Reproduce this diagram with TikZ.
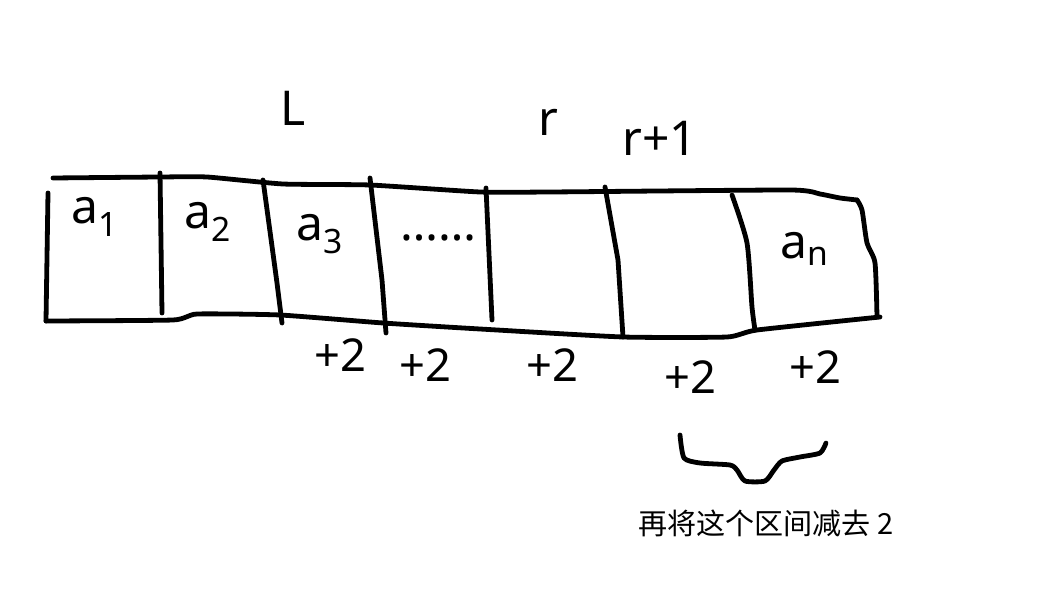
\documentclass[tikz,border=0pt]{standalone}
\usepackage{fontspec}
\setmainfont{Noto Sans}
\newfontfamily\cjk{Noto Sans CJK SC}
\begin{document}
\begin{tikzpicture}[x=0.75pt,y=-0.75pt,
  pen/.style={line width=3.6pt,line cap=round,line join=round,black},
  hand/.style={font=\fontsize{36}{36}\selectfont,inner sep=0pt},
  plus/.style={font=\fontsize{34}{34}\selectfont,inner sep=0pt},
  note/.style={font=\cjk\fontsize{21.8}{21.8}\selectfont,inner sep=0pt}]
\useasboundingbox[fill=white] (0,0) rectangle (1039,598);
% outline
\draw[pen] plot[smooth,tension=0.3] coordinates {(53,178) (160,177) (207,177) (283,184) (370,185) (480,192) (550,192) (790,190) (820,194) (840,198) (857,200)};
\draw[pen] plot[smooth,tension=0.4] coordinates {(857,200) (862,210) (867,243) (875,263) (877,317)};
\draw[pen] (48,193) -- (46,321);
\draw[pen] plot[smooth,tension=0.3] coordinates {(46,321) (173,320) (197,314) (280,315) (383,323) (480,329) (623,337) (727,337) (757,330) (880,317)};
% dividers
\draw[pen] (160,173) -- (162,313);
\draw[pen] (263,180) -- (277,283) -- (282,323);
\draw[pen] (370,178) -- (382,280) -- (386,333);
\draw[pen] (486,188) -- (492,320);
\draw[pen] (605,187) -- (618,260) -- (623,337);
\draw[pen] plot[smooth,tension=0.4] coordinates {(732,195) (747,243) (752,307) (755,330)};
% brace
\draw[pen] plot[smooth,tension=0.4] coordinates {(680,435) (684,458) (700,463) (730,465) (737,470) (745,481) (765,481) (774,470) (782,461) (800,457) (820,453) (826,443)};
% labels above
\node[hand] (L) at (293,108) {L};
\node[hand] (r) at (548,122) {r};
\node[hand] (r1) at (660,138) {r+1};
% cell labels
\node[hand] (a1) at (95,217) {a\textsubscript{1}};
\node[hand] (a2) at (208,222) {a\textsubscript{2}};
\node[hand] (a3) at (320,234) {a\textsubscript{3}};
\node[hand] (dots) at (438,238) {……};
\node[hand] (an) at (805,249) {a\textsubscript{n}};
% +2 labels
\node[plus] (p1) at (340,355) {+2};
\node[plus] (p2) at (425,365) {+2};
\node[plus] (p3) at (552,365) {+2};
\node[plus] (p4) at (690,377) {+2};
\node[plus] (p5) at (815,367) {+2};
% note
\node[note] (n) at (766,523) {再将这个区间减去 2};
\end{tikzpicture}
\end{document}
